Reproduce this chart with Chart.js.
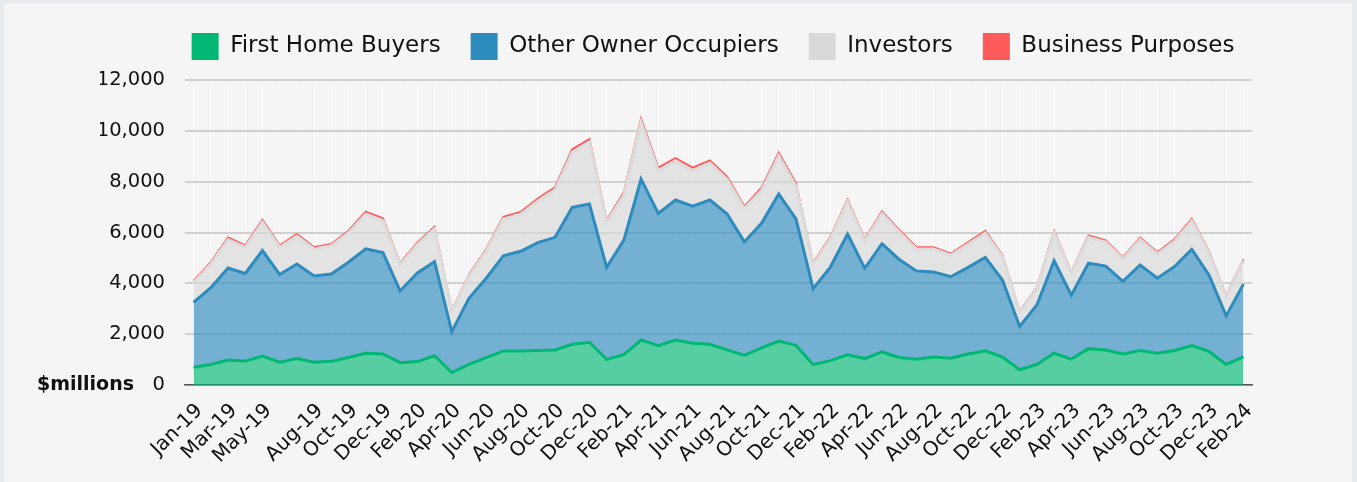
<!DOCTYPE html>
<html>
<head>
<meta charset="utf-8">
<script src="https://cdn.jsdelivr.net/npm/chart.js@4.4.1/dist/chart.umd.min.js"></script>
<style>
  html, body { margin: 0; padding: 0; background: #e8ebee; width: 1357px; height: 482px; overflow: hidden; }
  .card { position: absolute; left: 4px; top: 3px; width: 1348px; height: 479px; background: #f5f5f5; }
  #c { position: absolute; left: 0; top: 0; }
</style>
</head>
<body>
<div class="card"></div>
<canvas id="c" width="1357" height="482"></canvas>
<script>
const months = [
  'Jan-19','Feb-19','Mar-19','Apr-19','May-19','Jun-19','Jul-19','Aug-19','Sep-19','Oct-19','Nov-19','Dec-19',
  'Jan-20','Feb-20','Mar-20','Apr-20','May-20','Jun-20','Jul-20','Aug-20','Sep-20','Oct-20','Nov-20','Dec-20',
  'Jan-21','Feb-21','Mar-21','Apr-21','May-21','Jun-21','Jul-21','Aug-21','Sep-21','Oct-21','Nov-21','Dec-21',
  'Jan-22','Feb-22','Mar-22','Apr-22','May-22','Jun-22','Jul-22','Aug-22','Sep-22','Oct-22','Nov-22','Dec-22',
  'Jan-23','Feb-23','Mar-23','Apr-23','May-23','Jun-23','Jul-23','Aug-23','Sep-23','Oct-23','Nov-23','Dec-23',
  'Jan-24','Feb-24'
];

const shownTickLabels = [
  'Jan-19','Mar-19','May-19','Aug-19','Oct-19','Dec-19','Feb-20','Apr-20','Jun-20','Aug-20','Oct-20','Dec-20',
  'Feb-21','Apr-21','Jun-21','Aug-21','Oct-21','Dec-21','Feb-22','Apr-22','Jun-22','Aug-22','Oct-22','Dec-22',
  'Feb-23','Apr-23','Jun-23','Aug-23','Oct-23','Dec-23','Feb-24'
];

const yTicks = [0, 2000, 4000, 6000, 8000, 10000, 12000];

const firstHomeBuyers = [
  700, 810, 980, 940, 1140, 900, 1040, 900, 930, 1080, 1250, 1220,
  880, 920, 1150, 490, 810, 1080, 1340, 1340, 1360, 1380, 1600, 1680,
  1010, 1190, 1770, 1550, 1770, 1640, 1600, 1380, 1170, 1460, 1730, 1560,
  800, 960, 1190, 1040, 1300, 1080, 1010, 1100, 1050, 1220, 1350, 1100,
  600, 810, 1250, 1020, 1430, 1380, 1220, 1360, 1250, 1360, 1550, 1320,
  810, 1110
];

const otherOwnerOccupiers = [
  2550, 3020, 3620, 3450, 4150, 3450, 3720, 3390, 3440, 3750, 4110, 3990,
  2820, 3490, 3700, 1610, 2600, 3120, 3740, 3920, 4240, 4430, 5390, 5440,
  3620, 4510, 6330, 5200, 5510, 5400, 5680, 5350, 4460, 4900, 5780, 4980,
  2990, 3680, 4750, 3550, 4260, 3860, 3480, 3350, 3210, 3410, 3670, 3030,
  1700, 2340, 3640, 2510, 3360, 3300, 2860, 3360, 2950, 3300, 3790, 3010,
  1910, 2860
];

const investors = [
  780, 930, 1120, 1030, 1120, 1070, 1100, 1060, 1110, 1160, 1370, 1260,
  1030, 1120, 1300, 780, 860, 1070, 1450, 1460, 1640, 1870, 2170, 2440,
  1760, 1780, 2250, 1690, 1540, 1400, 1450, 1370, 1300, 1300, 1510, 1290,
  960, 1110, 1270, 1070, 1190, 1090, 860, 900, 850, 910, 960, 910,
  550, 630, 1100, 850, 1020, 940, 880, 1010, 960, 1000, 1120, 880,
  760, 910
];

const businessPurposes = [
  60, 70, 80, 70, 90, 70, 80, 70, 70, 80, 90, 90,
  60, 70, 80, 40, 60, 70, 90, 90, 100, 100, 120, 120,
  80, 100, 130, 110, 110, 110, 110, 100, 90, 100, 120, 100,
  60, 70, 90, 70, 80, 70, 70, 70, 60, 70, 80, 60,
  40, 50, 70, 50, 70, 70, 60, 70, 60, 70, 80, 60,
  40, 60
];

const FONT = "'DejaVu Sans', sans-serif";
const solid = ['#00b874', '#2e8bbe', '#d9d9d9', '#ff5a5a'];
const fills = ['rgba(0,184,116,0.65)', 'rgba(46,139,190,0.65)', 'rgba(217,217,217,0.65)', 'rgba(255,90,90,0.25)'];

const millionsLabel = {
  id: 'millionsLabel',
  afterDraw(chart) {
    const ctx = chart.ctx;
    const y = chart.scales.y.getPixelForValue(0);
    ctx.save();
    ctx.font = "bold 19px " + FONT;
    ctx.fillStyle = '#111';
    ctx.textAlign = 'right';
    ctx.textBaseline = 'middle';
    ctx.fillText('$millions', chart.chartArea.left - 51, y);
    ctx.restore();
  }
};

new Chart(document.getElementById('c'), {
  type: 'line',
  data: {
    labels: months,
    datasets: [
      { label: 'First Home Buyers', data: firstHomeBuyers, borderColor: solid[0], backgroundColor: fills[0], fill: 'origin', borderWidth: 3 },
      { label: 'Other Owner Occupiers', data: otherOwnerOccupiers, borderColor: solid[1], backgroundColor: fills[1], fill: '-1', borderWidth: 3 },
      { label: 'Investors', data: investors, borderColor: '#dcdcdc', backgroundColor: fills[2], fill: '-1', borderWidth: 3 },
      { label: 'Business Purposes', data: businessPurposes, borderColor: solid[3], backgroundColor: fills[3], fill: '-1', borderWidth: 2 }
    ]
  },
  options: {
    responsive: false,
    animation: false,
    devicePixelRatio: 1,
    elements: { point: { radius: 0, hoverRadius: 0 }, line: { tension: 0 } },
    layout: { padding: { left: 100, right: 31, top: 3, bottom: 0 } },
    plugins: {
      tooltip: { enabled: false },
      legend: {
        position: 'top',
        labels: {
          boxWidth: 27, boxHeight: 27, padding: 30, color: '#111',
          font: { family: FONT, size: 23 },
          generateLabels(chart) {
            return Chart.defaults.plugins.legend.labels.generateLabels(chart).map((l, i) => Object.assign(l, {
              fillStyle: solid[i], strokeStyle: solid[i], lineWidth: 0
            }));
          }
        }
      }
    },
    scales: {
      x: {
        offset: true,
        grid: { color: 'rgba(255,255,255,0.45)', lineWidth: 1, drawTicks: false },
        border: { display: true, color: '#555', width: 1.5 },
        ticks: {
          autoSkip: false, maxRotation: 45, minRotation: 45, padding: 14, labelOffset: 6,
          color: '#111', font: { family: FONT, size: 20 },
          callback(val) { const l = this.getLabelForValue(val); return shownTickLabels.includes(l) ? l : ''; }
        },
        afterFit(s) { s.height = 97; }
      },
      xTop: {
        type: 'category', position: 'top', display: true,
        grid: { display: false }, border: { display: false }, ticks: { display: false },
        afterFit(s) { s.height = 10; }
      },
      y: {
        stacked: true, min: 0, max: 12000,
        afterBuildTicks(s) { s.ticks = yTicks.map(v => ({ value: v })); },
        grid: { color: 'rgba(0,0,0,0.15)', lineWidth: 2, drawTicks: false },
        border: { display: false },
        ticks: { padding: 20, color: '#111', font: { family: FONT, size: 19.5 } },
        afterFit(s) { s.width = 85; }
      },
      yRight: {
        type: 'linear', position: 'right', display: true,
        grid: { display: false }, border: { display: false }, ticks: { display: false },
        afterFit(s) { s.width = 74; }
      }
    }
  },
  plugins: [millionsLabel]
});
</script>
</body>
</html>
